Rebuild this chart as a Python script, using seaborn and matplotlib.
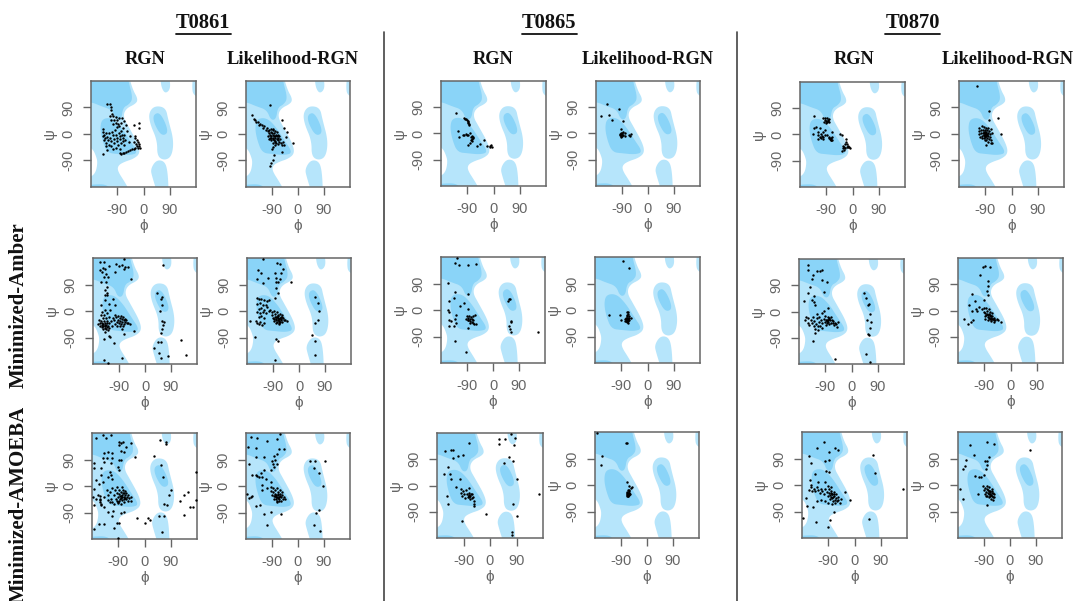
# -*- coding: utf-8 -*-
import numpy as np
import pandas as pd
import matplotlib
matplotlib.use("Agg")
import matplotlib.pyplot as plt
from matplotlib.lines import Line2D
import seaborn as sns

# ===================== Ramachandran background outlines (phi, psi) =====================
light_main = [(-52,215),(-50,195),(-36,149),(-20,121),(-24,104),(-61,86),(-70,58),(-50,23),(-18,-34),(-12,-66),
              (-33,-84),(-67,-95),(-87,-107),(-89,-125),(-65,-162),(-50,-188),(-50,-215),(-215,-215),(-215,-150),
              (-190,-150),(-165,-135),(-157,-97),(-163,-74),(-174,-51),(-195,-40),(-215,-40),(-215,215)]
dark_beta = [(-215,215),(-56,215),(-52,180),(-36,121),(-50,100),(-70,90),(-76,50),(-94,47),(-108,82),(-144,94),(-180,109),(-215,106)]
dark_alpha = [(-142,52),(-108,55),(-77,25),(-48,-20),(-18,-64),(-46,-72),(-87,-68),(-124,-64),(-141,-22),(-149,20)]
dark_bottom = [(-215,-215),(-105,-215),(-115,-182),(-133,-171),(-167,-171),(-215,-177)]
light_lh = [(18,72),(38,96),(76,90),(85,48),(104,-22),(97,-76),(72,-90),(47,-76),(47,-22),(22,35)]
dark_lh = [(33,66),(58,74),(88,6),(62,-8),(36,36)]
light_top = [(58,205),(86,205),(94,155),(75,136),(60,160)]
light_right = [(215,200),(171,200),(166,160),(171,130),(215,116)]
light_low = [(24,-119),(44,-88),(72,-92),(83,-125),(87,-215),(52,-215),(30,-146)]

# ===================== Points (phi, psi) =====================
t0861_rgn_raw = [(-124,103),(-116,101),(-110,93),(-112,80),(-109,69),(-115,61),(-103,61),(-95,57),(-110,49),(-101,46),(-90,47),(-84,55),(-75,55),(-67,44),(-95,38),(-87,34),(-78,38),(-103,34),(-92,25),(-83,28),(-72,22),(-60,30),
    (-140,18),(-138,8),(-135,-2),(-140,-8),(-132,-14),(-128,4),(-125,-10),(-122,-22),(-118,2),(-115,-12),(-112,-24),(-108,8),(-105,-5),(-102,-16),(-100,-30),(-98,14),(-95,-2),(-92,-12),(-90,-25),(-88,-36),(-85,5),(-82,-6),(-80,-18),(-78,-32),(-76,10),(-74,-2),(-72,-12),(-70,-24),(-68,-38),(-66,-5),(-64,-20),(-130,-30),(-137,-22),(-118,-36),(-128,-40),(-110,-40),(-140,-69),(-125,-55),(-105,-52),(-95,-48),(-80,-52),
    (-80,-66),(-76,-68),(-72,-65),(-66,-64),(-60,-62),(-52,-58),(-46,-56),(-40,-52),(-34,-50),(-28,-46),(-22,-42),(-18,-46),(-14,-40),(-12,-48),(-16,-34),(-20,-28),(-24,-20),(-28,-12),(-30,-6),(-26,-34),(-32,-28),(-32,29),(-17,36),(-14,21),(-48,-8),(-50,-26),(-56,10)]
t0861_lrgn_raw = [(-96,100),(-56,47),(-48,21),(-37,7),(-41,-10),(-16,-31),(-56,-60),(-82,-73),(-88,-88),(-92,-100),(-96,-109),
    (-160,64),(-152,52),(-148,46),(-145,40),(-140,42),(-136,32),(-130,35),(-125,30),(-120,22),(-116,26),(-112,15),(-108,20),(-105,10),(-102,5),(-100,14),(-98,-2),(-95,8),(-92,-8),(-90,4),(-88,-4),(-85,-12),(-82,2),(-80,-6),(-78,-14),(-76,-3),(-74,-18),(-72,-8),(-70,-22),(-68,-14),(-65,-26),(-62,-18),(-60,-30),(-56,-36),(-52,-28),(-50,-38),(-85,18),(-92,-22),(-88,-30),(-80,-28),(-70,-35),(-100,-18),(-95,-12),(-88,12),(-82,-20),(-78,-24),(-75,-30),(-92,18),(-105,-8),(-98,-14),(-84,-8),(-86,-16),(-80,10),(-74,6),(-70,-2),(-66,-6),(-78,-38),(-85,-45),(-90,-52)]
t0865_rgn_raw = [(-129,69),(-102,52),(-94,49),(-89,44),(-86,37),(-85,29),(-123,9),(-119,-11),(-103,-6),(-96,-3),(-89,-6),(-80,3),(-74,-9),(-71,-17),(-78,-21),(-80,-34),(-89,-38),(-57,-42),(-48,-37),(-34,-23),(-21,-44),(-11,-48),(-8,-41),(-98,50),(-91,46),(-87,40),(-84,33),(-100,-5),(-92,-4),(-76,-13),(-72,-12),(-74,-20),(-75,-26),(-6,-48),(-12,-44)]
t0865_lrgn_raw = [(-141,100),(-102,83),(-162,61),(-134,63),(-126,46),(-87,44),(-93,17),(-86,6),(-78,2),(-89,0),(-97,-6),(-93,-11),(-87,-6),(-80,-8),(-93,-3),(-66,-6),(-58,-2),(-63,-9),(-95,2),(-91,-8),(-96,-2),(-90,-4),(-94,-7)]
t0870_rgn_raw = [(-132,62),(-100,55),(-96,50),(-92,46),(-88,42),(-84,48),(-80,52),(-94,56),(-86,55),(-98,44),(-90,38),(-82,42),(-85,46),
    (-134,3),(-132,21),(-125,26),(-120,9),(-111,21),(-117,-2),(-109,3),(-120,-17),(-113,-8),(-105,-6),(-100,9),(-94,15),(-102,-14),(-88,-2),(-82,-8),(-77,-14),(-71,9),(-74,-19),(-71,-10),(-79,-11),(-75,-18),(-70,-20),(-73,-12),(-108,-12),(-95,-2),(-100,-8),
    (-42,3),(-37,-2),(-23,-17),(-25,-31),(-31,-40),(-37,-56),(-25,-48),(-17,-42),(-10,-45),(-19,-33),(-29,-54),(-14,-38),(-22,-25),(-34,-48),(-28,-42),(-20,-44),(-12,-42)]
t0870_lrgn_raw = [(-117,162),(-78,78),(-46,53),(-78,46),(-37,0),(-110,22),(-100,26),(-95,25),(-88,22),(-80,20),(-72,18),(-112,10),(-105,12),(-98,15),(-90,12),(-83,14),(-76,10),(-110,0),(-104,2),(-98,5),(-92,4),(-86,6),(-80,3),(-74,0),(-68,2),(-108,-10),(-100,-6),(-95,-3),(-90,-2),(-85,-4),(-80,-8),(-74,-10),(-102,-14),(-96,-12),(-90,-10),(-84,-14),(-78,-16),(-72,-20),(-92,-20),(-86,-22),(-80,-26),(-72,-30),(-66,-30),(-88,-36),(-92,3),(-90,7),(-87,-1),(-94,8),(-88,-6),(-84,1),(-96,-5),(-91,-7)]

t0861_rgn_amber = [(-155,166),(-141,168),(-147,146),(-155,140),(-138,142),(-149,131),(-135,126),(-143,117),(-128,115),(-151,100),(-135,100),(-132,83),(-138,71),(-131,62),(-140,54),(-124,154),(-101,159),(-89,154),(-80,157),(-74,142),(-69,149),(-60,151),(-72,178),(-48,108),(63,157),(-103,134),
    (-132,54),(-138,37),(-151,20),(-126,25),(-105,20),(-112,42),(-138,5),(-120,3),
    (-163,-45),(-158,-30),(-156,-50),(-154,-15),(-152,-35),(-150,-55),(-148,-5),(-147,-25),(-146,-45),(-144,-60),(-142,-15),(-141,-35),(-140,-50),(-138,-42),(-136,-62),(-135,-25),(-134,-48),(-133,-55),(-131,-8),(-130,-35),(-129,-50),(-128,-65),(-126,-20),(-125,-42),(-124,-58),(-150,-42),(-145,-52),(-140,-58),(-137,-48),(-132,-42),(-155,-42),(-148,-48),
    (-109,-30),(-105,-15),(-104,-45),(-100,-22),(-98,-38),(-96,-52),(-94,-18),(-92,-30),(-90,-42),(-88,-25),(-87,-50),(-85,-35),(-83,-18),(-82,-44),(-80,-28),(-78,-38),(-76,-52),(-75,-20),(-74,-32),(-72,-45),(-70,-28),(-68,-38),(-65,-32),(-62,-42),(-58,-40),(-52,-45),(-118,-35),(-115,-50),(-112,-25),(-38,-69),
    (-138,-72),(-124,-84),(-109,-107),(-143,-95),(-74,-78),(-80,-61),(-120,-89),(-129,-175),(-143,-167),(-78,-158),
    (42,62),(60,48),(54,42),(60,19),(52,0),(60,-34),(66,-38),(61,-49),(60,-61),(57,-76),(44,-104),(55,-104),(31,-126),(48,-141),(55,-158),(80,-152),(126,-99),(143,-149)]
t0861_lrgn_amber = [(-126,178),(-76,162),(-66,158),(-55,143),(-61,130),(-141,139),(-132,130),(-147,109),(-124,95),(-107,112),(-84,130),(-78,112),(-66,107),(-81,97),(-72,97),(-29,99),(-78,78),(-74,61),(-84,44),(56,49),(65,26),(68,1),(65,-31),(57,-42),(45,-83),(54,-102),(54,-148),(-84,-168),(-81,-95),(-74,-102),(-152,-88),(-170,-34),
    (-147,44),(-140,42),(-132,40),(-122,38),(-112,35),(-105,38),(-145,25),(-135,28),(-125,20),(-115,22),(-140,8),(-130,10),(-120,5),(-110,12),(-145,-5),(-135,-8),(-125,-2),(-115,-8),(-105,0),(-140,-22),(-130,-18),(-120,-25),(-150,-35),(-145,-42),(-140,-45),(-135,-38),(-128,-48),(-122,-40),
    (-100,5),(-95,-3),(-92,-12),(-90,-25),(-88,-35),(-86,0),(-84,-10),(-82,-20),(-80,-30),(-78,-40),(-76,-5),(-74,-15),(-72,-25),(-70,-35),(-68,-45),(-66,-10),(-64,-20),(-62,-30),(-60,-38),(-58,-15),(-56,-25),(-52,-32),(-48,-30),(-42,-35),(-75,-20),(-71,-18),(-69,-28),(-74,-30),(-66,-24),(-63,-26),(-80,-22),(-78,-28),(-85,-28),(-75,-36),(-70,-42),(-65,-38),(-60,-22)]
t0865_rgn_amber = [(-126,176),(-119,154),(-132,159),(-85,154),(-58,157),(-157,91),(-132,62),(-85,53),(-136,42),(-151,31),(-100,25),(-113,14),(-86,2),(-157,1),(-154,-7),(-127,-18),(-62,-17),(-151,-33),(-145,-36),(-132,-30),(-128,-44),(-151,-56),(-134,-56),(-86,-61),(-132,-104),(-94,-144),
    (-90,-22),(-86,-28),(-82,-20),(-78,-30),(-85,-35),(-80,-38),(-75,-24),(-70,-34),(-74,-42),(-66,-46),(-60,-46),(-68,-20),(-72,-30),(-88,-34),(-92,-32),(-80,-44),(-70,-44),
    (55,39),(58,36),(52,31),(61,-36),(64,-41),(55,-53),(58,-64),(64,-76),(156,-76)]
t0865_lrgn_amber = [(-84,167),(-65,142),(-132,-16),(-96,-18),(-92,-33),(-72,-8),(-68,-6),(-66,-12),(-70,-16),(-72,-22),(-64,-20),(-74,-28),(-70,-28),(-66,-26),(-62,-28),(-56,-28),(-78,-32),(-72,-34),(-68,-34),(-64,-34),(-74,-38),(-70,-40),(-66,-38),(-68,-44),(-76,-36),(-66,-30),(-71,-36),(-73,-31),(-69,-37)]
t0870_rgn_amber = [(-150,159),(-149,142),(-120,139),(-109,139),(-100,142),(-132,125),(-137,111),(-101,108),(-84,102),(-95,68),(-150,62),(-141,83),(-130,53),(-162,37),(-135,41),(-130,33),(-124,22),(-81,11),
    (-160,-30),(-155,-18),(-150,-38),(-148,-22),(-145,-45),(-140,-28),(-136,-38),(-132,-20),(-130,-50),(-128,-32),(-125,-60),(-122,-42),(-118,-22),(-116,-50),(-112,-35),(-110,-18),(-108,-48),(-105,-28),(-102,-40),(-100,-55),(-95,-25),(-92,-35),(-90,-15),(-88,-45),(-85,-28),(-82,-20),(-80,-35),(-78,-25),(-76,-42),(-74,-30),(-72,-18),(-70,-38),(-68,-28),(-65,-40),(-62,-32),(-60,-45),(-56,-38),(-52,-42),(-50,-52),(-48,-36),(-120,-8),(-100,-5),(-95,3),(-80,-30),(-76,-22),(-84,-33),(-88,-30),(-83,-38),(-125,-72),(-115,-62),
    (-132,-102),(-58,-164),(44,62),(49,48),(56,24),(61,25),(65,-7),(54,-30),(68,-36),(63,-55),(56,-78),(61,-79),(49,-147),(63,-173)]
t0870_lrgn_amber = [(-86,154),(-94,150),(-71,150),(-105,121),(-77,102),(-78,85),(-80,68),(-78,54),(-132,58),(-143,19),(-123,31),(-92,36),(-158,-28),(-147,-47),(-135,-41),(-129,-33),(-132,-1),(-120,5),(-109,13),(-97,5),(-86,-7),(-115,-3),(-32,-38),
    (-92,8),(-90,-5),(-88,-18),(-86,-28),(-84,10),(-82,-2),(-80,-12),(-78,-22),(-76,-32),(-74,5),(-72,-6),(-70,-16),(-68,-26),(-66,-36),(-64,-10),(-62,-20),(-60,-30),(-58,-40),(-56,-24),(-52,-34),(-48,-30),(-44,-34),(-72,-18),(-68,-20),(-66,-28),(-75,-24),(-62,-28),(-58,-32),(-70,-30),(-78,-14),(-74,-12),(-84,-16)]

t0861_rgn_amoeba = [(-143,174),(-115,174),(-166,163),(-132,163),(-80,146),(-86,140),(-74,151),(-89,149),(-46,146),(-63,134),(-80,119),(-71,115),(-138,111),(-124,117),(-112,111),(-143,94),(-128,94),(-112,94),(-86,88),(-80,88),(-32,100),(-140,83),(-115,77),(-172,77),(-174,62),(-149,62),(-92,65),(-86,54),(-120,48),(-115,37),(-126,31),(-112,25),(-149,37),(-166,19),(-155,8),(-143,14),(-172,-9),(-178,-38),(-166,-44),(-172,-66),(-160,-32),(-151,-49),(-149,-66),(-138,-38),(-140,-72),(-126,-49),(-124,-89),(-112,-103),(-109,-84),(-80,-92),(-71,-89),(-94,-124),(-103,-141),(-155,-130),(-138,-130),(-92,-175),(-86,-124),(-172,-147),
    (-152,-35),(-153,-45),(-152,-55),(-150,-62),
    (-103,-30),(-100,-15),(-98,-45),(-96,-5),(-94,-25),(-92,-38),(-90,-55),(-88,-12),(-86,-28),(-84,-44),(-82,-20),(-80,-62),(-80,-35),(-78,-5),(-76,-48),(-75,-25),(-74,-15),(-72,-38),(-70,-55),(-68,-30),(-66,-18),(-65,-45),(-62,-25),(-60,-38),(-58,-50),(-55,-30),(-52,-42),(-48,-38),(-46,-50),(-85,-35),(-82,-42),(-78,-30),(-76,-38),(-72,-45),(-70,-25),(-68,-40),(-88,-50),(-92,-58),(-95,-52),(-105,-60),(-115,-45),(-125,-30),(-118,-20),(-130,-15),(-110,-8),(-120,-55),(-110,-55),
    (55,71),(65,31),(92,-13),(85,-30),(66,-61),(78,-66),(48,-103),(66,-101),(60,-156),(54,157),(74,151),(74,143),(34,103),
    (149,-21),(135,-30),(121,-50),(155,-72),(166,-72),(135,-99),(175,48),(175,-46),(-26,-107),(2,-124),(11,-110),(20,-115)]
t0861_lrgn_amoeba = [(-63,178),(-164,167),(-141,164),(-173,133),(-147,129),(-107,152),(-74,158),(-66,126),(-49,124),(-147,99),(-118,99),(-170,76),(-84,101),(-89,84),(-78,89),(-84,66),(-74,76),(-93,55),(-72,107),(-87,76),
    (-158,38),(-141,34),(-129,44),(-118,55),(-147,38),(-124,32),(-135,32),(-112,23),(-95,15),(-124,3),(-107,-8),(-175,-28),(-164,-37),(-170,-42),(-158,-34),(-124,-14),(-147,-68),(-133,-65),(-95,-88),(-118,-94),(-107,-134),(-58,-96),(42,84),(60,84),(94,84),(54,61),(74,44),(86,0),(71,-83),(63,-92),(54,-131),(77,-154),
    (-95,-4),(-92,-18),(-90,-30),(-88,-8),(-86,-22),(-84,-34),(-82,-44),(-80,-14),(-78,-26),(-76,-38),(-74,-50),(-72,-8),(-70,-20),(-68,-32),(-66,-44),(-64,-14),(-62,-26),(-60,-38),(-58,-52),(-56,-20),(-54,-32),(-52,-44),(-48,-36),(-44,-44),(-75,-30),(-72,-36),(-70,-42),(-68,-26),(-66,-36),(-63,-33),(-77,-45),(-72,-54),(-80,-34),(-65,-52)]
t0865_rgn_amoeba = [(-72,147),(-152,119),(-131,121),(-124,121),(-127,95),(-107,101),(-93,104),(-144,64),(-156,38),(-135,38),(-133,21),(-103,21),(-115,-5),(-73,-7),(-147,-37),(-142,-62),(30,144),(30,158),(52,158),(71,178),(85,162),(81,139),(64,99),(77,84),(47,76),(91,22),(79,-65),(93,-104),(76,-159),(74,-171),(168,-30),(-14,-99),(-96,-121),(-55,-62),(-55,-71),(-53,-54),
    (-100,-12),(-98,-25),(-95,-35),(-92,-20),(-88,-30),(-85,-42),(-80,-15),(-78,-30),(-75,-38),(-72,-25),(-70,-35),(-68,-45),(-66,-30),(-62,-28),(-60,-42),(-58,-38),(-72,-33),(-70,-40),(-73,-37),(-68,-36)]
t0865_lrgn_amoeba = [(-172,178),(-70,142),(-74,141),(-156,99),(-160,68),(-69,9),(-61,-5),(-53,-7),(-61,-18),(-55,-10),(-66,-18),(-64,-22),(-68,-24),(-62,-26),(-66,-28),(-70,-30),(-64,-30),(-60,-30),(-68,-34),(-65,-36),(-62,-34),(-70,-36),(-66,-38),(-64,-26),(-67,-32),(-63,-32),(-69,-28)]
t0870_rgn_amoeba = [(-103,146),(-130,126),(-89,111),(-66,126),(-55,118),(-156,100),(-101,80),(-86,86),(-149,74),(-97,46),(-89,44),(-135,37),(-126,11),(-101,11),(-152,17),(-149,0),(-155,-17),(-166,-44),(-162,-71),(-141,-74),(-32,-23),(-15,-52),(-178,-111),(-132,-126),(-84,-118),(-92,-143),(-70,-92),(65,103),(69,40),(48,-117),(166,-14),
    (-150,-8),(-145,-20),(-140,-12),(-135,-22),(-130,-8),(-125,-18),(-120,-28),(-115,-12),(-110,-22),(-105,-32),(-100,-15),(-95,-25),(-92,-5),(-90,-38),(-88,-15),(-86,-28),(-84,-48),(-82,-8),(-80,-20),(-78,-32),(-76,-44),(-74,-55),(-72,-25),(-70,-38),(-68,-50),(-66,-62),(-64,-30),(-62,-45),(-60,-55),(-58,-40),(-55,-52),(-50,-60),(-85,-35),(-82,-42),(-80,-28),(-76,-30),(-75,-40),(-72,-32),(-130,-55),(-115,-50),(-100,-55),(-90,-62),(-78,-65),(-45,-48)]
t0870_lrgn_amoeba = [(-81,146),(-139,135),(-126,103),(-55,138),(69,118),(-152,84),(-155,66),(-164,54),(-87,80),(-78,80),(-72,95),(-84,54),(-78,69),(-120,29),(-107,26),(-101,26),(-89,34),(-110,-31),(-173,-14),(-164,-49),(-78,-69),
    (-92,-5),(-90,-18),(-88,-30),(-86,-10),(-84,-24),(-82,-36),(-80,-2),(-78,-14),(-76,-28),(-74,-42),(-72,-8),(-70,-20),(-68,-32),(-66,-46),(-64,-14),(-62,-26),(-60,-40),(-58,-52),(-56,-30),(-72,-30),(-68,-24),(-66,-34),(-74,-22),(-70,-38),(-64,-36),(-62,-20),(-60,-28),(-76,-18),(-78,-36),(-55,-42)]

targets = ["T0861", "T0865", "T0870"]
models = ["RGN", "Likelihood-RGN"]
row_names = ["Minimized-Amber", "Minimized-AMOEBA"]
tick_vals = [-90, 0, 90]
tick_text = ["-90", "0", "90"]

W, H = 1075, 601
LIGHT = "#b6e5fb"
DARK = "#8ad4f8"
GREY = "#666666"
SERIF = "Liberation Serif"

# left, right, top, bottom in pixels
panels = [
    [(t0861_rgn_raw, 91, 196, 81, 187), (t0861_lrgn_raw, 246, 350, 81, 187), (t0865_rgn_raw, 441, 546, 81, 186),
     (t0865_lrgn_raw, 596, 700, 81, 186), (t0870_rgn_raw, 800, 905, 82, 187), (t0870_lrgn_raw, 959, 1064, 81, 187)],
    [(t0861_rgn_amber, 93, 197, 258, 364), (t0861_lrgn_amber, 247, 351, 258, 364), (t0865_rgn_amber, 441, 545, 257, 363),
     (t0865_lrgn_amber, 595, 700, 257, 363), (t0870_rgn_amber, 799, 904, 259, 364), (t0870_lrgn_amber, 958, 1063, 258, 363)],
    [(t0861_rgn_amoeba, 92, 197, 433, 539), (t0861_lrgn_amoeba, 246, 350, 433, 539), (t0865_rgn_amoeba, 437, 543, 433, 538),
     (t0865_lrgn_amoeba, 595, 699, 432, 538), (t0870_rgn_amoeba, 802, 907, 432, 538), (t0870_lrgn_amoeba, 958, 1062, 432, 538)],
]


def smooth(outline, rounds=3):
    # corner cutting so the outlines look like density contours
    pts = np.array(outline, dtype=float)
    for _ in range(rounds):
        nxt = np.roll(pts, -1, axis=0)
        pts = np.column_stack([0.75 * pts + 0.25 * nxt, 0.25 * pts + 0.75 * nxt]).reshape(-1, 2)
    return pts


sns.set_theme(style="white")
plt.rcParams['font.family'] = ['Liberation Sans', 'DejaVu Sans']

fig = plt.figure(figsize=(W / 100, H / 100), dpi=100)

for row in panels:
    for points, left, right, top, bottom in row:
        ax = fig.add_axes([left / W, 1 - bottom / H, (right - left) / W, (bottom - top) / H])
        for outline in [light_main, light_lh, light_top, light_right, light_low]:
            xy = smooth(outline)
            ax.fill(xy[:, 0], xy[:, 1], color=LIGHT, lw=0)
        for outline in [dark_beta, dark_alpha, dark_bottom, dark_lh]:
            xy = smooth(outline)
            ax.fill(xy[:, 0], xy[:, 1], color=DARK, lw=0)
        df = pd.DataFrame(points, columns=["phi", "psi"])
        sns.scatterplot(data=df, x="phi", y="psi", color="black", s=3, linewidth=0, ax=ax, zorder=3)
        ax.set_xlim(-180, 180)
        ax.set_ylim(-180, 180)
        ax.set_xticks(tick_vals, tick_text)
        ax.set_yticks(tick_vals, tick_text)
        ax.tick_params(length=5.8, width=1, color=GREY, labelcolor=GREY, labelsize=10.5, pad=5.5, bottom=True, left=True)
        for lab in ax.get_yticklabels():
            lab.set_rotation(90)
            lab.set_va("center")
        ax.set_xlabel("ϕ", fontsize=11, color=GREY, labelpad=1.5)
        ax.set_ylabel("ψ", fontsize=11, color=GREY, labelpad=3)
        for sp in ax.spines.values():
            sp.set_color(GREY)
            sp.set_linewidth(1.1)

# target headers with underline
for name, cx, lx0, lx1 in zip(targets, [203, 549, 913], [176, 522, 885], [231, 577, 940]):
    fig.text(cx / W, 1 - 23 / H, name, family=SERIF, weight="bold", fontsize=14.8, color="#111111", ha="center", va="center")
    fig.add_artist(Line2D([lx0 / W, lx1 / W], [1 - 33.5 / H] * 2, color="#111111", lw=1.3))

# model headers above the first row
for cx, label in zip([145, 293, 493, 648, 854, 1008], models * 3):
    fig.text(cx / W, 1 - 59 / H, label, family=SERIF, weight="bold", fontsize=13.2, color="#111111", ha="center", va="center")

# row labels
fig.text(19 / W, 1 - 305 / H, row_names[0], family=SERIF, weight="bold", fontsize=15, color="#111111", rotation=90, ha="center", va="center")
fig.text(19 / W, 1 - 504 / H, row_names[1], family=SERIF, weight="bold", fontsize=15, color="#111111", rotation=90, ha="center", va="center")

# separators between the targets
for x in [384, 737]:
    fig.add_artist(Line2D([x / W, x / W], [0, 1 - 32 / H], color="#444444", lw=1.2))

plt.savefig("out.png", dpi=100, facecolor="white")
